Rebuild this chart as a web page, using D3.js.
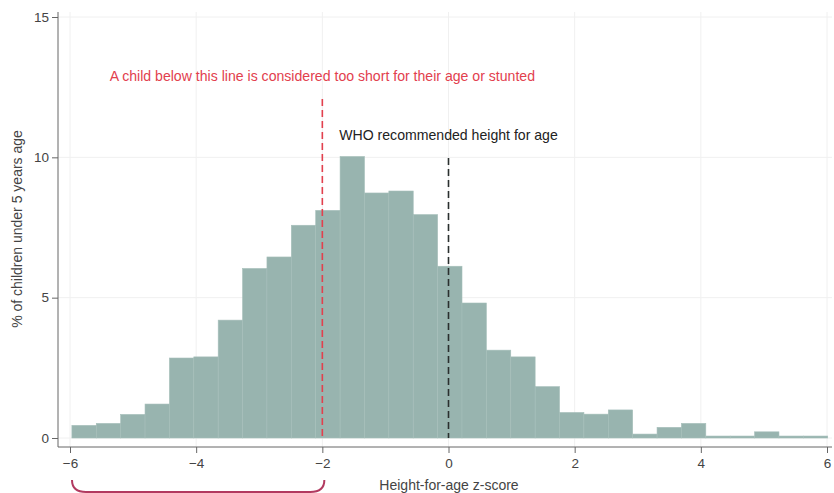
<!DOCTYPE html>
<html>
<head>
<meta charset="utf-8">
<script src="https://cdn.jsdelivr.net/npm/d3@7"></script>
<style>
  body { margin: 0; background: #fff; }
  svg text { font-family: "Liberation Sans", Arial, sans-serif; }
</style>
</head>
<body>
<svg id="chart" width="834" height="493"></svg>
<script>
// histogram of height-for-age z-scores
const binStart = -5.97;
const binWidth = 0.3865;
const binPct = [
  0.45, 0.52, 0.84, 1.21, 2.85, 2.89, 4.2, 6.04, 6.45, 7.58,
  8.11, 10.03, 8.73, 8.8, 7.96, 6.12, 4.81, 3.13, 2.89, 1.83,
  0.91, 0.85, 1.0, 0.14, 0.38, 0.52, 0.07, 0.07, 0.22, 0.07, 0.07
];
const xTicks = [-6, -4, -2, 0, 2, 4, 6];
const yTicks = [0, 5, 10, 15];
const stuntedCut = -2;
const whoRef = 0;

const svg = d3.select("#chart");

const x = d3.scaleLinear().domain([-6, 6]).range([70, 827]);
const y = d3.scaleLinear().domain([0, 15]).range([438, 17]);

const axisY = 447, axisX = 58;

// gridlines
const grid = svg.append("g");
grid.selectAll("line.gx").data(xTicks).enter().append("line")
  .attr("x1", d => x(d)).attr("x2", d => x(d))
  .attr("y1", 12).attr("y2", axisY)
  .attr("stroke", "#f0f0f0").attr("stroke-width", 1);
grid.selectAll("line.gy").data(yTicks).enter().append("line")
  .attr("x1", axisX).attr("x2", 832)
  .attr("y1", d => y(d)).attr("y2", d => y(d))
  .attr("stroke", "#f0f0f0").attr("stroke-width", 1);

// bars
const bins = binPct.map((v, i) => ({ x0: binStart + i * binWidth, x1: binStart + (i + 1) * binWidth, v }));
svg.append("g").selectAll("rect")
  .data(bins)
  .enter().append("rect")
  .attr("x", d => x(d.x0))
  .attr("y", d => y(d.v))
  .attr("width", d => x(d.x1) - x(d.x0))
  .attr("height", d => y(0) - y(d.v))
  .attr("fill", "#98b4af")
  .attr("stroke", "#a6bfba")
  .attr("stroke-width", 0.6);

// reference lines
svg.append("line")
  .attr("x1", x(stuntedCut)).attr("x2", x(stuntedCut))
  .attr("y1", 99).attr("y2", y(0))
  .attr("stroke", "#e2404e").attr("stroke-width", 1.6)
  .attr("stroke-dasharray", "7,4");
svg.append("line")
  .attr("x1", x(whoRef)).attr("x2", x(whoRef))
  .attr("y1", 158).attr("y2", y(0))
  .attr("stroke", "#2a2f2e").attr("stroke-width", 1.6)
  .attr("stroke-dasharray", "7,4");

// annotations
svg.append("text")
  .attr("x", x(stuntedCut)).attr("y", 81)
  .attr("text-anchor", "middle")
  .attr("font-size", 14.1)
  .attr("fill", "#e2404e")
  .text("A child below this line is considered too short for their age or stunted");
svg.append("text")
  .attr("x", x(whoRef)).attr("y", 140)
  .attr("text-anchor", "middle")
  .attr("font-size", 14.1)
  .attr("fill", "#222")
  .text("WHO recommended height for age");

// axes
const gx = svg.append("g")
  .attr("transform", `translate(0,${axisY})`)
  .call(d3.axisBottom(x).tickValues(xTicks).tickSize(6).tickPadding(5).tickSizeOuter(0));
gx.select(".domain").attr("d", `M${axisX},0H832`);

const gy = svg.append("g")
  .attr("transform", `translate(${axisX},0)`)
  .call(d3.axisLeft(y).tickValues(yTicks).tickSize(6).tickPadding(3).tickSizeOuter(0));
gy.select(".domain").attr("d", `M0,12V${axisY}`);

[gx, gy].forEach(g => {
  g.selectAll(".domain, .tick line").attr("stroke", "#666");
  g.selectAll("text").attr("fill", "#444").attr("font-size", 13.5)
    .style("font-family", "Liberation Sans, Arial, sans-serif");
});

// axis titles
svg.append("text")
  .attr("transform", `translate(22,229) rotate(-90)`)
  .attr("text-anchor", "middle")
  .attr("font-size", 14)
  .attr("fill", "#444")
  .text("% of children under 5 years age");
svg.append("text")
  .attr("x", 449).attr("y", 490)
  .attr("text-anchor", "middle")
  .attr("font-size", 14)
  .attr("fill", "#444")
  .text("Height-for-age z-score");

// brace under the stunted range
const bx0 = x(-6) + 2, bx1 = x(stuntedCut) + 2, by = 480;
svg.append("path")
  .attr("d", `M${bx0},${by} Q${bx0},${by + 12} ${bx0 + 14},${by + 12} L${bx1 - 14},${by + 12} Q${bx1},${by + 12} ${bx1},${by}`)
  .attr("fill", "none")
  .attr("stroke", "#b23a60")
  .attr("stroke-width", 2);
</script>
</body>
</html>
